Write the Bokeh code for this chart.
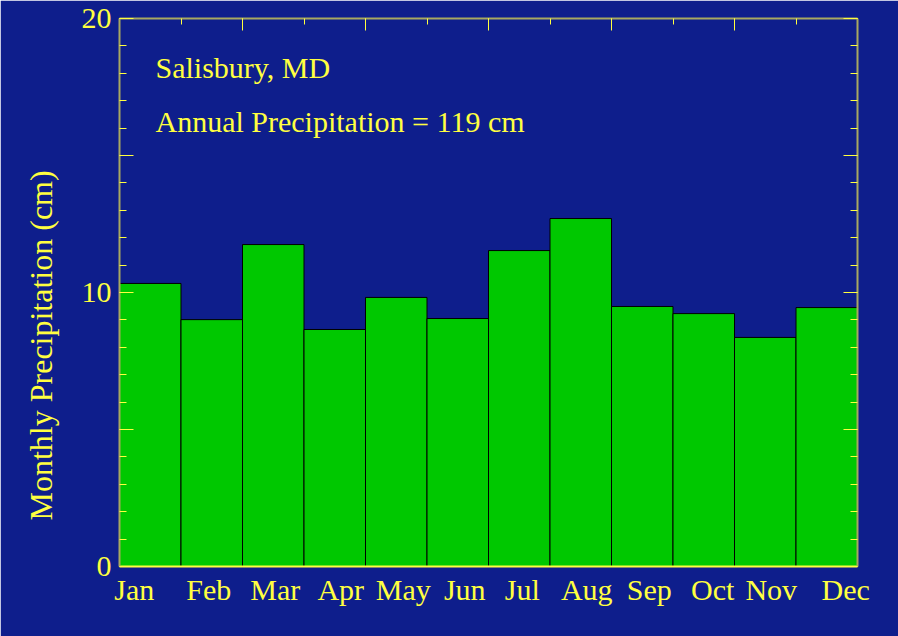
from bokeh.plotting import figure
from bokeh.models import LinearAxis, FixedTicker, Range1d, Label, Title, ColumnDataSource
from bokeh.embed import file_html
from bokeh.resources import INLINE

months = ["Jan", "Feb", "Mar", "Apr", "May", "Jun", "Jul", "Aug", "Sep", "Oct", "Nov", "Dec"]
precip = [10.33, 9.01, 11.75, 8.65, 9.82, 9.05, 11.53, 12.70, 9.49, 9.23, 8.36, 9.45]
y_major = [0, 5, 10, 15, 20]
y_minor = list(range(0, 21))
y_labels = {0: "0", 5: "", 10: "10", 15: "", 20: "20"}
title_lines = ["Salisbury, MD", "Annual Precipitation = 119 cm"]
y_title = "Monthly Precipitation (cm)"

# layout / style only (pixel nudges of the month labels as in the original)
month_label_dx = [-16, -3, 2, 6, 7, 7, 3, 6, 7, 9, 6, 19]
title_y = [18.2, 16.24]

BG = "#0e1e8c"
YEL = "#ffff40"
AXL = "#a8a860"
FONT = "Liberation Serif"
FS = "30px"
FRAME_W = 898 - 119 - 41

x_centers = [i + 0.5 for i in range(len(months))]
src = ColumnDataSource(dict(x=x_centers, top=precip, month=months))

p = figure(width=898, height=636, x_range=Range1d(0, len(months)), y_range=Range1d(0, 20),
           output_backend="svg", toolbar_location=None,
           x_axis_location=None, y_axis_location=None,
           min_border_left=119, min_border_right=41, min_border_top=18, min_border_bottom=70)
p.background_fill_color = BG
p.border_fill_color = BG
p.outline_line_color = None
p.xgrid.visible = False
p.ygrid.visible = False

p.vbar(x="x", top="top", bottom=0, width=1.0, source=src,
       fill_color="#00c800", line_color="black", line_width=1)

def style_common(ax):
    ax.major_label_text_font = FONT
    ax.major_label_text_font_size = FS
    ax.major_label_text_color = YEL
    ax.major_tick_line_color = YEL
    ax.minor_tick_line_color = YEL
    ax.major_tick_out = 0
    ax.minor_tick_out = 0

# left axis
left = LinearAxis(ticker=FixedTicker(ticks=y_major, minor_ticks=y_minor),
                  major_label_overrides=y_labels)
style_common(left)
left.axis_line_color = AXL
left.axis_line_width = 2
left.major_tick_in = 14
left.minor_tick_in = 7
left.major_label_standoff = 8
p.add_layout(left, "left")

# y title, starting a little above the frame's bottom as in the original
p.add_layout(Title(text=y_title, align="left", offset=46, text_font=FONT,
                   text_font_size="32px", text_font_style="normal", text_color=YEL,
                   standoff=40), "left")

# right axis
right = LinearAxis(ticker=FixedTicker(ticks=y_major, minor_ticks=y_minor),
                   major_label_overrides={k: "" for k in y_major})
style_common(right)
right.major_label_text_font_size = "1px"
right.axis_line_color = AXL
right.axis_line_width = 2
right.major_tick_in = 14
right.minor_tick_in = 7
p.add_layout(right, "right")

# top axis
x_major = list(range(0, len(months) + 1, 2))
x_minor = list(range(0, len(months) + 1))
top = LinearAxis(ticker=FixedTicker(ticks=x_major, minor_ticks=x_minor),
                 major_label_overrides={k: "" for k in x_major})
style_common(top)
top.major_label_text_font_size = "1px"
top.axis_line_color = AXL
top.axis_line_width = 2
top.major_tick_in = 12
top.minor_tick_in = 6
p.add_layout(top, "above")

# bottom axis: month names at the bar centres, nudged by a few pixels
px_per_unit = FRAME_W / len(months)
label_ticks = [round(c + dx / px_per_unit, 4) for c, dx in zip(x_centers, month_label_dx)]
bottom = LinearAxis(ticker=FixedTicker(ticks=label_ticks, minor_ticks=[]),
                    major_label_overrides={t: m for t, m in zip(label_ticks, months)})
style_common(bottom)
bottom.axis_line_color = YEL
bottom.axis_line_width = 2
bottom.major_tick_in = 0
bottom.minor_tick_in = 0
bottom.major_label_standoff = 6
p.add_layout(bottom, "below")

for txt, yy in zip(title_lines, title_y):
    p.add_layout(Label(x=0.585, y=yy, text=txt, text_font=FONT, text_font_size=FS,
                       text_color=YEL, text_baseline="alphabetic", text_align="left"))

open("out.html", "w").write(file_html(p, INLINE))
